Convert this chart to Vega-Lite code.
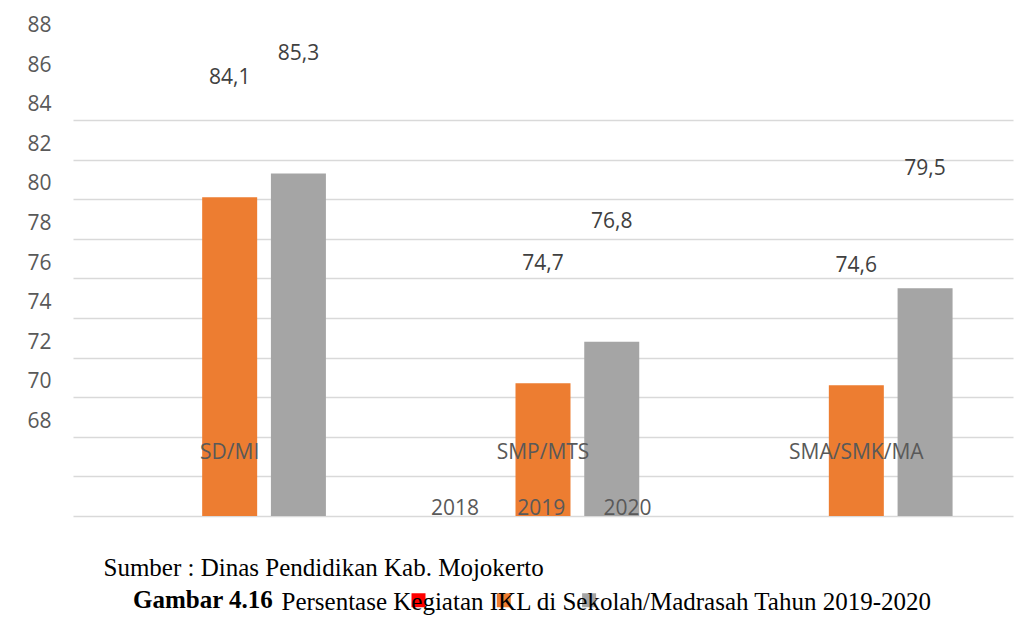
{
  "$schema": "https://vega.github.io/schema/vega-lite/v6.json",
  "width": 940,
  "height": 396,
  "autosize": {"type": "none"},
  "padding": {"left": 73, "top": 120, "right": 14, "bottom": 114},
  "background": "#ffffff",
  "config": {
    "view": {"stroke": null},
    "locale": {"number": {"decimal": ",", "thousands": ".", "grouping": [3], "currency": ["", ""]}}
  },
  "data": {
    "values": [
      {"jenjang": "SD/MI", "tahun": "2019", "nilai": 84.1},
      {"jenjang": "SD/MI", "tahun": "2020", "nilai": 85.3},
      {"jenjang": "SMP/MTS", "tahun": "2019", "nilai": 74.7},
      {"jenjang": "SMP/MTS", "tahun": "2020", "nilai": 76.8},
      {"jenjang": "SMA/SMK/MA", "tahun": "2019", "nilai": 74.6},
      {"jenjang": "SMA/SMK/MA", "tahun": "2020", "nilai": 79.5}
    ]
  },
  "encoding": {
    "x": {
      "field": "jenjang",
      "type": "nominal",
      "sort": ["SD/MI", "SMP/MTS", "SMA/SMK/MA"],
      "scale": {"paddingInner": 0, "paddingOuter": 0},
      "axis": {
        "title": "Persentase Kegiatan IKL di Sekolah/Madrasah Tahun 2019-2020",
        "titleX": 208,
        "titleY": 93,
        "titleAlign": "left",
        "titleAnchor": "start",
        "titleBaseline": "alphabetic",
        "titleFont": "Liberation Serif",
        "titleFontSize": 25,
        "titleFontWeight": "normal",
        "titleColor": "#000000",
        "labelAngle": 0,
        "labelFont": "Open Sans",
        "labelFontSize": 21,
        "labelColor": "#595959",
        "labelPadding": -64,
        "labelBaseline": "middle",
        "ticks": false,
        "tickSize": 0,
        "domain": false,
        "zindex": 1,
        "labelOverlap": false
      }
    },
    "xOffset": {
      "field": "tahun",
      "type": "nominal",
      "scale": {"domain": ["2018", "2019", "2020"], "paddingInner": 0.2, "paddingOuter": 0.879}
    },
    "y": {
      "field": "nilai",
      "type": "quantitative",
      "scale": {"domain": [68, 88], "nice": false, "zero": false, "clamp": true},
      "axis": {
        "values": [68, 70, 72, 74, 76, 78, 80, 82, 84, 86, 88],
        "format": "d",
        "title": "Sumber : Dinas Pendidikan Kab. Mojokerto",
        "titleAngle": 0,
        "titleX": 30,
        "titleY": 455,
        "titleAlign": "left",
        "titleBaseline": "alphabetic",
        "titleFont": "Liberation Serif",
        "titleFontSize": 25,
        "titleFontWeight": "normal",
        "titleColor": "#000000",
        "labelFont": "Open Sans",
        "labelFontSize": 21,
        "labelColor": "#595959",
        "labelPadding": 22,
        "labelOffset": -94.5,
        "ticks": false,
        "tickSize": 0,
        "domain": false,
        "grid": true,
        "gridColor": "#D9D9D9",
        "gridWidth": 1.5,
        "labelOverlap": false,
        "labelFlush": false
      }
    }
  },
  "layer": [
    {
      "mark": {"type": "bar"},
      "encoding": {
        "y2": {"datum": 68},
        "color": {
          "field": "tahun",
          "type": "nominal",
          "scale": {"domain": ["2018", "2019", "2020"], "range": ["#FF0000", "#ED7D31", "#A5A5A5"]},
          "legend": {
            "orient": "none",
            "legendX": 330,
            "legendY": 378.5,
            "direction": "horizontal",
            "title": null,
            "symbolType": "square",
            "symbolSize": 196,
            "symbolOpacity": 0,
            "symbolStrokeWidth": 0,
            "labelFont": "Open Sans",
            "labelFontSize": 21,
            "labelColor": "#595959",
            "labelOffset": 7,
            "columnPadding": 9.25,
            "padding": 0
          }
        }
      }
    },
    {
      "mark": {"type": "bar"},
      "encoding": {
        "y": {"datum": 68},
        "y2": {"datum": 68},
        "color": {
          "field": "tahun",
          "type": "nominal",
          "scale": {"domain": ["2018", "2019", "2020"], "range": ["#FF0000", "#ED7D31", "#A5A5A5"]},
          "legend": {
            "orient": "none",
            "legendX": 60,
            "legendY": 469.5,
            "direction": "horizontal",
            "title": "Gambar 4.16",
            "titleOrient": "left",
            "titleFont": "Liberation Serif",
            "titleFontSize": 25,
            "titleFontWeight": "bold",
            "titleColor": "#000000",
            "titlePadding": 134,
            "symbolType": "square",
            "symbolSize": 196,
            "symbolOpacity": 1,
            "symbolStrokeWidth": 0,
            "labelExpr": "''",
            "labelFont": "Open Sans",
            "labelFontSize": 21,
            "labelOffset": 7,
            "columnPadding": 57.3,
            "padding": 0
          }
        }
      }
    },
    {
      "mark": {"type": "text", "dy": -119.5, "font": "Open Sans", "fontSize": 21, "color": "#404040"},
      "encoding": {
        "text": {"field": "nilai", "type": "quantitative", "format": ".1f"}
      }
    }
  ],
  "resolve": {"scale": {"color": "independent"}, "legend": {"color": "independent"}}
}
